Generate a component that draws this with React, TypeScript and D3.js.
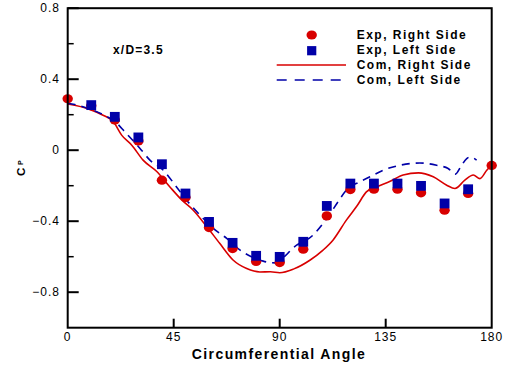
import React from "react";
import * as d3 from "d3";

const expAngles = [0, 10, 20, 30, 40, 50, 60, 70, 80, 90, 100, 110, 120, 130, 140, 150, 160, 170, 180];
const expRight = [0.29, 0.25, 0.17, 0.052, -0.169, -0.267, -0.436, -0.554, -0.627, -0.633, -0.558, -0.37, -0.222, -0.22, -0.22, -0.24, -0.338, -0.244, -0.086];
const leftAngles = [10, 20, 30, 40, 50, 60, 70, 80, 90, 100, 110, 120, 130, 140, 150, 160, 170];
const expLeft = [0.254, 0.188, 0.072, -0.079, -0.244, -0.404, -0.522, -0.595, -0.601, -0.516, -0.314, -0.188, -0.188, -0.188, -0.201, -0.3, -0.22];

const comRightX = [0, 9.4, 15, 19.4, 22.9, 27.2, 32, 37.8, 43.4, 48.4, 53.3, 59, 64.6, 70.3, 76, 81.6, 86, 90, 95.8, 102.8, 108.4, 112.6, 118.3, 123, 126.8, 131, 136.9, 142.4, 148.9, 155.2, 160.9, 164.4, 168.6, 172.2, 175, 177.9, 180];
const comRightY = [0.26, 0.23, 0.197, 0.16, 0.085, 0.028, -0.056, -0.12, -0.207, -0.28, -0.338, -0.43, -0.526, -0.62, -0.667, -0.686, -0.685, -0.69, -0.67, -0.62, -0.563, -0.507, -0.394, -0.31, -0.235, -0.207, -0.175, -0.14, -0.128, -0.15, -0.197, -0.216, -0.169, -0.14, -0.16, -0.113, -0.085];

const comLeftX = [0, 3, 15, 20.7, 24.3, 30.7, 34.9, 40.6, 46.2, 50.4, 56.2, 61.8, 67.5, 73.2, 78, 83, 88, 92, 95.7, 104, 110.5, 114.8, 118.3, 124, 128.3, 133.9, 141, 149.5, 156.6, 161.5, 164.6, 167, 169.4, 170.8, 173.6];
const comLeftY = [0.265, 0.257, 0.2, 0.154, 0.103, 0.01, -0.056, -0.113, -0.207, -0.28, -0.366, -0.44, -0.497, -0.563, -0.6, -0.625, -0.635, -0.6, -0.55, -0.48, -0.375, -0.29, -0.225, -0.178, -0.15, -0.113, -0.085, -0.072, -0.085, -0.103, -0.135, -0.09, -0.047, -0.038, -0.056];

const xTicks = [0, 45, 90, 135, 180];
const yTicks = [0.8, 0.4, 0, -0.4, -0.8];
const yMinor = [0.6, 0.2, -0.2, -0.6];
const legendLabels = ["Exp, Right Side", "Exp, Left Side", "Com, Right Side", "Com, Left Side"];

const RED = "#d80000";
const BLUE = "#0000a8";

export default function App() {
  const W = 510, H = 365;
  const L = 67.7, R = 491.7, T = 8.2, B = 327.7;
  const x = d3.scaleLinear().domain([0, 180]).range([L, R]);
  const y = d3.scaleLinear().domain([-1, 0.8]).range([B, T]);
  const line = d3.line<[number, number]>().x(d => x(d[0])).y(d => y(d[1])).curve(d3.curveMonotoneX);
  const rightPath = line(comRightX.map((a, i) => [a, comRightY[i]]) as [number, number][]) || "";
  const leftPath = line(comLeftX.map((a, i) => [a, comLeftY[i]]) as [number, number][]) || "";
  const font = "Arial, 'Liberation Sans', sans-serif";

  return (
    <svg width={W} height={H} style={{ position: "absolute", left: 0, top: 0, background: "#fff" }} fontFamily={font}>
      <rect width={W} height={H} fill="#fff" />
      <defs>
        <clipPath id="plot">
          <rect x={L} y={T} width={R - L} height={B - T} />
        </clipPath>
      </defs>
      <g clipPath="url(#plot)">
        <path d={rightPath} fill="none" stroke={RED} strokeWidth={1.6} />
        <path d={leftPath} fill="none" stroke={BLUE} strokeWidth={1.6} strokeDasharray="8,6" />
      </g>
      {expAngles.map((a, i) => (
        <ellipse key={"r" + i} cx={x(a)} cy={y(expRight[i])} rx={5.2} ry={4.6} fill={RED} />
      ))}
      {leftAngles.map((a, i) => (
        <rect key={"b" + i} x={x(a) - 4.9} y={y(expLeft[i]) - 4.9} width={9.8} height={9.8} fill={BLUE} />
      ))}
      <rect x={L} y={T} width={R - L} height={B - T} fill="none" stroke="#000" strokeWidth={2} />
      {yTicks.map(t => (
        <g key={"yt" + t}>
          <line x1={L} x2={L + 11} y1={y(t)} y2={y(t)} stroke="#000" strokeWidth={2} />
          <text x={60} y={y(t)} dy="0.35em" textAnchor="end" fontSize={12} letterSpacing={1}>{t === 0 ? "0" : d3.format(".1f")(t)}</text>
        </g>
      ))}
      {yMinor.map(t => (
        <line key={"ym" + t} x1={L} x2={L + 6} y1={y(t)} y2={y(t)} stroke="#000" strokeWidth={1.5} />
      ))}
      {xTicks.map(t => (
        <g key={"xt" + t}>
          {t > 0 && t < 180 && <line x1={x(t)} x2={x(t)} y1={B} y2={B - 9} stroke="#000" strokeWidth={2} />}
          <text x={x(t)} y={337} dy="0.35em" textAnchor="middle" fontSize={12} letterSpacing={1}>{t}</text>
        </g>
      ))}
      <text x={279} y={354} dy="0.35em" textAnchor="middle" fontSize={14} fontWeight="bold" letterSpacing={1.4}>Circumferential Angle</text>
      <text transform="translate(25,176) rotate(-90)" fontSize={11.5} fontWeight="bold">C</text>
      <text transform="translate(22.5,165) rotate(-90)" fontSize={7} fontWeight="bold">P</text>
      <text x={113} y={50} dy="0.35em" fontSize={12} fontWeight="bold" letterSpacing={1.2}>x/D=3.5</text>
      <g>
        <ellipse cx={311.7} cy={35} rx={5.2} ry={4.6} fill={RED} />
        <rect x={311.7 - 4.6} y={50.7 - 4.6} width={9.2} height={9.2} fill={BLUE} />
        <line x1={276.7} x2={346} y1={65} y2={65} stroke={RED} strokeWidth={1.6} />
        <line x1={276.7} x2={346} y1={80} y2={80} stroke={BLUE} strokeWidth={1.6} strokeDasharray="10,8" />
        {legendLabels.map((s, i) => (
          <text key={s} x={356.7} y={35 + i * 15} dy="0.35em" fontSize={12} fontWeight="bold" letterSpacing={1.5}>{s}</text>
        ))}
      </g>
    </svg>
  );
}
